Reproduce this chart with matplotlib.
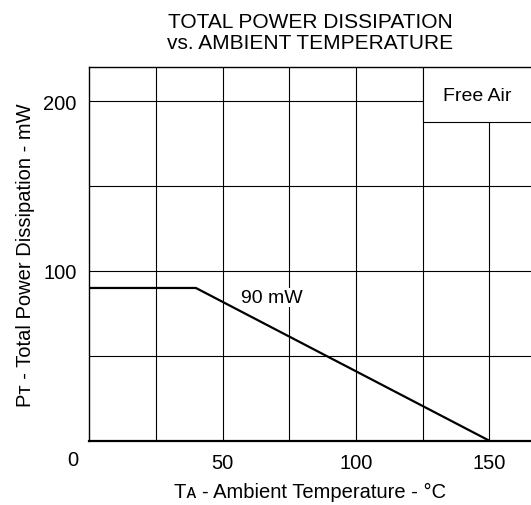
import matplotlib
matplotlib.use("Agg")
import matplotlib.pyplot as plt
from matplotlib.patches import Rectangle

plt.rcParams['font.family'] = ['Liberation Sans', 'DejaVu Sans']

# derating curve (ambient temp degC, power mW)
temp = [0, 40, 150]
power = [90, 90, 0]

x_ticks = [50, 100, 150]
y_ticks = [100, 200]
x_grid = [25, 50, 75, 100, 125, 150]
y_grid = [50, 100, 150, 200]

fig = plt.figure(figsize=(5.31, 5.06), dpi=100)
ax = fig.add_axes([0.168, 0.127, 0.832, 0.738])
ax.set_xlim(0, 165.6)
ax.set_ylim(0, 220)

for x in x_grid:
    ax.axvline(x, color='black', lw=0.8, zorder=1)
for y in y_grid:
    ax.axhline(y, color='black', lw=0.8, zorder=1)

# "Free Air" box in the top right corner
ax.add_patch(Rectangle((125, 188), 60, 40, facecolor='white', edgecolor='black',
                       lw=0.8, zorder=2, clip_on=True))
ax.text(145.5, 203.5, 'Free Air', ha='center', va='center', fontsize=14, zorder=3)

ax.plot(temp, power, color='black', lw=1.6, zorder=4, solid_capstyle='butt')
ax.text(68.6, 84.5, '90 mW', ha='center', va='center', fontsize=14, zorder=3,
        bbox=dict(facecolor='white', edgecolor='none', pad=0.5))

ax.set_xticks(x_ticks)
ax.set_yticks(y_ticks)
ax.tick_params(length=0, labelsize=14.5, pad=9)
ax.annotate('0', xy=(0, 0), xytext=(-16, -9), textcoords='offset pixels',
            ha='center', va='top', fontsize=14.5)

ax.spines['right'].set_visible(False)
ax.spines['bottom'].set_linewidth(1.6)
ax.spines['left'].set_linewidth(1.0)
ax.spines['top'].set_linewidth(1.0)

ax.set_xlabel('T\u1d00 - Ambient Temperature - °C', fontsize=14.5, labelpad=7)
ax.set_ylabel('P\u1d1b - Total Power Dissipation - mW', fontsize=14.5, labelpad=6)
ax.set_title('TOTAL POWER DISSIPATION\nvs. AMBIENT TEMPERATURE', fontsize=15,
             pad=14, linespacing=1.1)

fig.savefig('out.png', dpi=100)
